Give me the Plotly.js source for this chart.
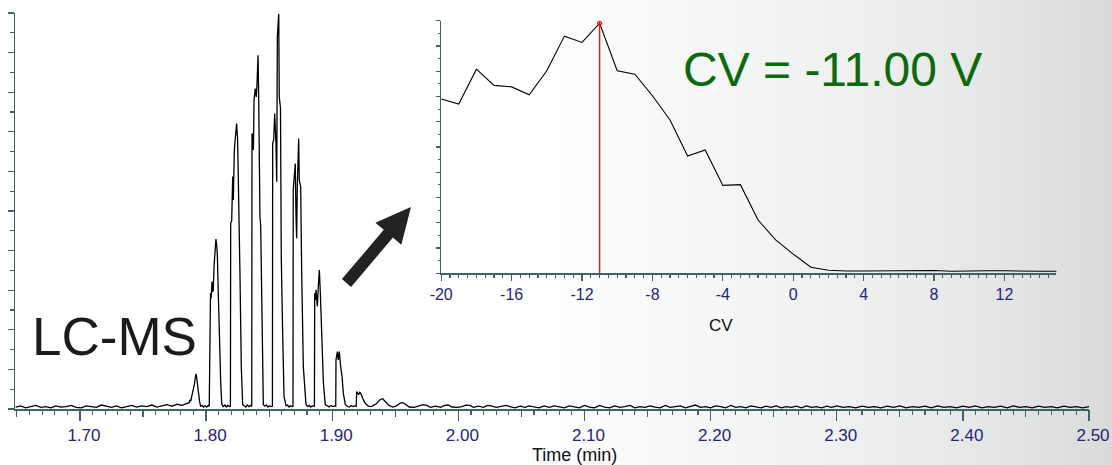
<!DOCTYPE html>
<html>
<head>
<meta charset="utf-8">
<script src="https://cdn.plot.ly/plotly-3.0.1.min.js"></script>
<style>
  html, body { margin:0; padding:0; }
  body { width:1112px; height:465px; overflow:hidden;
    background: linear-gradient(to right, #ffffff 0%, #ffffff 46%, #f6f7f7 62%, #eeefef 78%, #e4e6e5 90%, #d9dbda 100%); }
  #chart { width:1112px; height:465px; }
</style>
</head>
<body>
<div id="chart"></div>
<script>
// ---------------- DATA ----------------
// LC-MS chromatogram (relative intensity, %)
const preTime = [1.649,1.653,1.657,1.661,1.665,1.669,1.673,1.677,1.681,1.685,1.689,1.693,1.697,1.701,1.705,1.709,1.713,1.717,1.721,1.725,1.729,1.733,1.737,1.741,1.745,1.749,1.753,1.757,1.761,1.765,1.769,1.773,1.777,1.781,1.784];
const preInt  = [0.5,0.8,0.3,0.6,0.9,0.4,0.6,0.3,0.8,0.5,0.6,0.9,0.4,0.3,0.8,0.6,0.4,1.0,0.6,0.4,0.8,0.3,0.6,0.9,0.5,0.8,0.6,1.0,0.5,0.8,1.1,0.7,1.2,0.9,1.3];

const peakTime = [1.7865,1.7872,1.7879,1.7886,1.7893,1.7899,1.7906,1.7912,1.7920,1.7925,1.7930,1.7936,1.7941,1.7949,1.7957,1.7968,1.7980,1.7992,1.8004,1.8016,1.8025,
  1.8031,1.8035,1.8040,1.8047,1.8052,1.8057,1.8063,1.8068,1.8078,1.8083,1.8089,1.8097,1.8105,1.8111,1.8116,1.8124,1.8135,1.8148,1.8160,1.8172,1.8185,1.8193,
  1.8195,1.8203,1.8208,1.8211,1.8216,1.8224,1.8236,1.8242,1.8250,1.8261,1.8269,1.8279,1.8290,1.8302,1.8315,1.8328,1.8340,1.8352,1.8362,
  1.8364,1.8369,1.8375,1.8380,1.8390,1.8398,1.8404,1.8412,1.8417,1.8422,1.8427,1.8433,1.8438,1.8443,1.8454,1.8466,1.8478,1.8490,1.8502,1.8514,1.8526,
  1.8528,1.8536,1.8544,1.8554,1.8560,1.8565,1.8576,1.8580,1.8590,1.8596,1.8607,1.8618,1.8634,1.8646,1.8658,1.8670,1.8682,1.8689,
  1.8691,1.8699,1.8707,1.8713,1.8718,1.8723,1.8734,1.8739,1.8750,1.8758,1.8771,1.8792,1.8805,1.8818,1.8830,1.8843,1.8855,1.8859,
  1.8861,1.8866,1.8872,1.8882,1.8890,1.8898,1.8906,1.8917,1.8930,1.8945,1.8960,1.8975,1.8990,1.9005,1.9018,1.9028,
  1.9030,1.9041,1.9048,1.9056,1.9067,1.9078,1.9088,1.9104,1.9120,1.9135,1.9150,1.9165,1.9180,1.9190,
  1.9194,1.9210,1.9218,1.9226,1.9242,1.9260,1.9286];
const peakInt = [1.6,2.3,2.0,3.2,4.0,4.9,6.0,7.4,8.9,8.0,6.5,4.8,3.2,1.8,0.7,0.9,0.5,0.8,0.5,0.9,0.7,
  27.6,29.2,28.0,32.2,29.5,30.1,36.0,39.3,42.9,41.5,39.3,29.0,18.3,11.0,6.6,1.3,0.6,1.0,0.5,0.9,0.6,0.7,
  46.9,47.5,55.0,58.7,52.8,65.4,70.0,72.1,67.9,51.1,33.4,10.7,1.1,0.8,0.5,1.0,0.6,0.9,0.7,
  69.6,69.0,65.4,78.0,80.9,78.8,82.2,89.3,78.8,61.2,48.6,46.1,32.6,19.2,1.1,0.7,1.0,0.5,0.8,0.6,0.7,
  67.1,68.0,74.6,67.1,57.4,94.0,99.8,78.8,76.0,38.5,19.2,3.2,0.8,1.0,0.5,0.8,0.6,0.7,
  55.3,58.7,62.0,48.6,43.1,56.1,68.3,57.8,56.1,34.3,10.7,1.1,0.6,0.9,0.5,0.8,0.6,0.7,
  29.2,27.5,30.1,25.9,31.0,35.1,29.2,19.2,6.6,1.1,0.8,0.5,0.9,0.6,0.8,0.7,
  12.4,14.5,12.4,14.5,10.7,8.2,4.0,1.1,0.7,0.5,0.9,0.6,0.8,0.7,
  4.4,3.6,4.2,4.0,2.7,1.5,0.7];

const tailTime = [1.931,1.935,1.938,1.940,1.942,1.945,1.948,1.951,1.954,1.956,1.958,1.961,1.965,1.969,1.972,1.975,1.978,1.982,1.986,1.989,1.992,1.995,1.999,
  2.003,2.006,2.009,2.012,2.016,2.020,2.023,2.026,2.030,2.034,2.038,2.041,2.045,2.049,2.053,2.056,2.060,2.064,2.068,2.072,2.076,2.080,2.084,2.088,2.092,2.096,
  2.100,2.104,2.108,2.112,2.116,2.120,2.124,2.128,2.132,2.136,2.140,2.144,2.148,2.152,2.156,2.160,2.164,2.168,2.172,2.176,2.180,2.184,2.188,2.192,2.196,
  2.200,2.204,2.208,2.212,2.216,2.220,2.224,2.228,2.232,2.236,2.240,2.244,2.248,2.252,2.256,2.260,2.264,2.268,2.272,2.276,2.280,2.284,2.288,2.292,2.296,
  2.300,2.305,2.310,2.315,2.320,2.325,2.330,2.335,2.340,2.345,2.350,2.355,2.360,2.365,2.370,2.375,2.380,2.385,2.390,2.395,
  2.400,2.405,2.410,2.415,2.420,2.425,2.430,2.435,2.440,2.445,2.450,2.455,2.460,2.465,2.470,2.475,2.480,2.485,2.490,2.495,2.500];
const tailInt = [0.6,1.3,2.4,2.6,2.0,0.9,0.5,0.8,1.5,1.6,1.2,0.5,0.4,0.8,1.1,0.9,0.4,0.7,0.4,0.9,1.0,0.5,0.4,
  0.6,1.0,0.9,0.4,0.7,0.4,0.9,0.8,0.4,0.7,0.9,0.6,0.3,0.7,0.4,0.8,0.5,0.3,0.8,0.4,0.8,0.5,0.3,0.8,0.5,0.3,
  0.9,0.5,0.3,0.9,0.5,0.3,0.8,0.4,0.6,0.9,0.3,0.6,0.4,0.8,0.5,0.3,0.9,0.4,0.6,0.8,0.3,0.6,1.0,0.4,0.6,
  0.3,0.8,0.6,0.3,0.9,0.4,0.6,0.3,0.8,0.5,0.3,0.7,0.4,0.8,0.3,0.6,0.4,0.7,0.3,0.8,0.4,0.6,0.3,0.7,0.4,
  0.8,0.4,0.6,0.3,0.7,0.4,0.6,0.3,0.7,0.4,0.8,0.3,0.6,0.4,0.7,0.3,0.8,0.4,0.6,0.3,
  0.7,0.4,0.8,0.3,0.6,0.4,0.7,0.3,0.8,0.4,0.6,0.3,0.7,0.4,0.6,0.3,0.7,0.4,0.6,0.3,0.6];

// CV scan inset (compensation voltage, V vs relative signal, %)
const cvValues = [-20,-19,-18,-17,-16,-15,-14,-13,-12,-11,-10,-9,-8,-7,-6,-5,-4,-3,-2,-1,0,1,2,3,4,5,6,7,8,9,10,11,12,13,14,15];
const cvSignal = [69.0,67.0,80.8,74.4,73.8,70.7,80.2,93.9,91.4,99.0,80.2,78.8,70.3,60.7,46.4,48.8,34.8,35.1,21.1,13.2,7.6,2.4,1.2,0.9,0.9,0.9,1.1,1.1,1.1,0.8,1.0,1.0,1.0,0.8,0.8,0.8];
const selectedCV = -11;
const cvTickVals = [-20,-16,-12,-8,-4,0,4,8,12];

// Labels
const mainXTitle = 'Time (min)';
const insetXTitle = 'CV';
const methodLabel = 'LC-MS';

// ---------------- LAYOUT HELPERS ----------------
const W = 1112, H = 465;
const M = {l:15, r:23, t:13, b:56};
const PW = W - M.l - M.r, PH = H - M.t - M.b;
const px = x => (x - M.l) / PW;          // pixel -> paper x
const py = y => (H - M.b - y) / PH;      // pixel -> paper y

const axisColor = '#3f6465';
const tickFontColor = '#25257a';
const FONT = 'Liberation Sans, Arial, sans-serif';

const timeMin = preTime.concat(peakTime, tailTime);
const intensity = preInt.concat(peakInt, tailInt);

const traces = [
  {x: timeMin, y: intensity, type:'scatter', mode:'lines', xaxis:'x', yaxis:'y',
   line:{color:'#000000', width:1.3}, hoverinfo:'skip'},
  {x: [], y: [], type:'scatter', mode:'lines', xaxis:'x3', yaxis:'y', hoverinfo:'skip'},
  {x: cvValues, y: cvSignal, type:'scatter', mode:'lines', xaxis:'x2', yaxis:'y2',
   line:{color:'#000000', width:1.1}, hoverinfo:'skip'},
  {x: [selectedCV, selectedCV], y: [0, 100], type:'scatter', mode:'lines', xaxis:'x2', yaxis:'y2',
   line:{color:'#ee1111', width:1.4}, hoverinfo:'skip'},
  {x: [selectedCV], y: [cvSignal[cvValues.indexOf(selectedCV)]], type:'scatter', mode:'markers', xaxis:'x2', yaxis:'y2',
   marker:{symbol:'circle-open', size:4, color:'#ee1111', line:{width:1.2}}, hoverinfo:'skip', cliponaxis:false}
];

// arrow polygon (pixel coords)
const tail = [346.5, 283], tip = [411, 207];
const L = Math.hypot(tip[0]-tail[0], tip[1]-tail[1]);
const u = [(tip[0]-tail[0])/L, (tip[1]-tail[1])/L];
const n = [-u[1], u[0]];
const headLen = 35, shaftHW = 6, headHW = 17;
const hb = [tip[0]-headLen*u[0], tip[1]-headLen*u[1]];
const pts = [
  [tail[0]-shaftHW*n[0], tail[1]-shaftHW*n[1]],
  [hb[0]-shaftHW*n[0], hb[1]-shaftHW*n[1]],
  [hb[0]-headHW*n[0], hb[1]-headHW*n[1]],
  tip,
  [hb[0]+headHW*n[0], hb[1]+headHW*n[1]],
  [hb[0]+shaftHW*n[0], hb[1]+shaftHW*n[1]],
  [tail[0]+shaftHW*n[0], tail[1]+shaftHW*n[1]]
];
const arrowPath = 'M' + pts.map(p => px(p[0]).toFixed(5) + ',' + py(p[1]).toFixed(5)).join(' L') + ' Z';

const layout = {
  width: W, height: H,
  margin: M,
  paper_bgcolor: 'rgba(0,0,0,0)',
  plot_bgcolor: 'rgba(0,0,0,0)',
  showlegend: false,
  font: {family: FONT, color: tickFontColor},
  xaxis: {
    domain:[0,1], anchor:'y', range:[1.6485, 2.5], tick0:1.7, dtick:0.1, tickformat:'.2f',
    showline:true, linecolor:axisColor, linewidth:1.5, mirror:false,
    ticks:'outside', ticklen:10, tickwidth:1.4, tickcolor:axisColor,
    tickfont:{size:17, color:tickFontColor, family:FONT}, ticklabelshift:4, ticklabelstandoff:0,
    showgrid:false, zeroline:false,
    minor:{dtick:0.01, tick0:1.7, ticks:'outside', ticklen:4, tickwidth:1.1, tickcolor:axisColor, showgrid:false}
  },
  xaxis3: {
    overlaying:'x', anchor:'y', range:[1.6485, 2.5], tick0:1.7, dtick:0.05,
    showline:false, ticks:'outside', ticklen:7, tickwidth:1.1, tickcolor:axisColor,
    showticklabels:false, showgrid:false, zeroline:false
  },
  yaxis: {
    domain:[0,1], anchor:'x', range:[0,100], tick0:0, dtick:10,
    showline:true, linecolor:axisColor, linewidth:1.5,
    ticks:'outside', ticklen:6, tickwidth:1.3, tickcolor:axisColor,
    showticklabels:false, showgrid:false, zeroline:false,
    minor:{dtick:5, ticks:'outside', ticklen:4, tickwidth:1.1, tickcolor:axisColor, showgrid:false}
  },
  xaxis2: {
    domain:[px(441.2), px(1056.4)], anchor:'y2', range:[-20, 14.95],
    tickmode:'array', tickvals: cvTickVals, ticktext: cvTickVals.map(v => String(v)),
    showline:true, linecolor:axisColor, linewidth:1.4,
    ticks:'outside', ticklen:6, tickwidth:1.3, tickcolor:axisColor,
    tickfont:{size:16, color:tickFontColor, family:FONT}, ticklabelstandoff:0,
    showgrid:false, zeroline:false,
    minor:{dtick:0.5, tick0:-20, ticks:'outside', ticklen:3, tickwidth:1.1, tickcolor:axisColor, showgrid:false}
  },
  yaxis2: {
    domain:[py(273.3), py(20.7)], anchor:'x2', range:[0,100], tick0:0, dtick:10,
    showline:true, linecolor:axisColor, linewidth:1.4,
    ticks:'outside', ticklen:4, tickwidth:1.3, tickcolor:axisColor,
    showticklabels:false, showgrid:false, zeroline:false,
    minor:{dtick:5, ticks:'outside', ticklen:2, tickwidth:1.1, tickcolor:axisColor, showgrid:false}
  },
  shapes: [
    {type:'path', xref:'paper', yref:'paper', path: arrowPath, fillcolor:'#222222', line:{width:0}}
  ],
  annotations: [
    {text: methodLabel, xref:'paper', yref:'paper', x:px(30), y:py(336), xanchor:'left', yanchor:'middle',
     showarrow:false, font:{family:FONT, size:53, color:'#1b1b1b'}},
    {text: 'CV = ' + selectedCV.toFixed(2) + ' V', xref:'paper', yref:'paper', x:px(832.5), y:py(69), xanchor:'center', yanchor:'middle',
     showarrow:false, font:{family:FONT, size:48, color:'#0b6a0b'}},
    {text: mainXTitle, xref:'paper', yref:'paper', x:px(574), y:py(455), xanchor:'center', yanchor:'middle',
     showarrow:false, font:{family:FONT, size:18, color:'#111111'}},
    {text: insetXTitle, xref:'paper', yref:'paper', x:px(721), y:py(325), xanchor:'center', yanchor:'middle',
     showarrow:false, font:{family:FONT, size:17, color:'#111111'}}
  ]
};

Plotly.newPlot('chart', traces, layout, {staticPlot:true, displayModeBar:false});
</script>
</body>
</html>
